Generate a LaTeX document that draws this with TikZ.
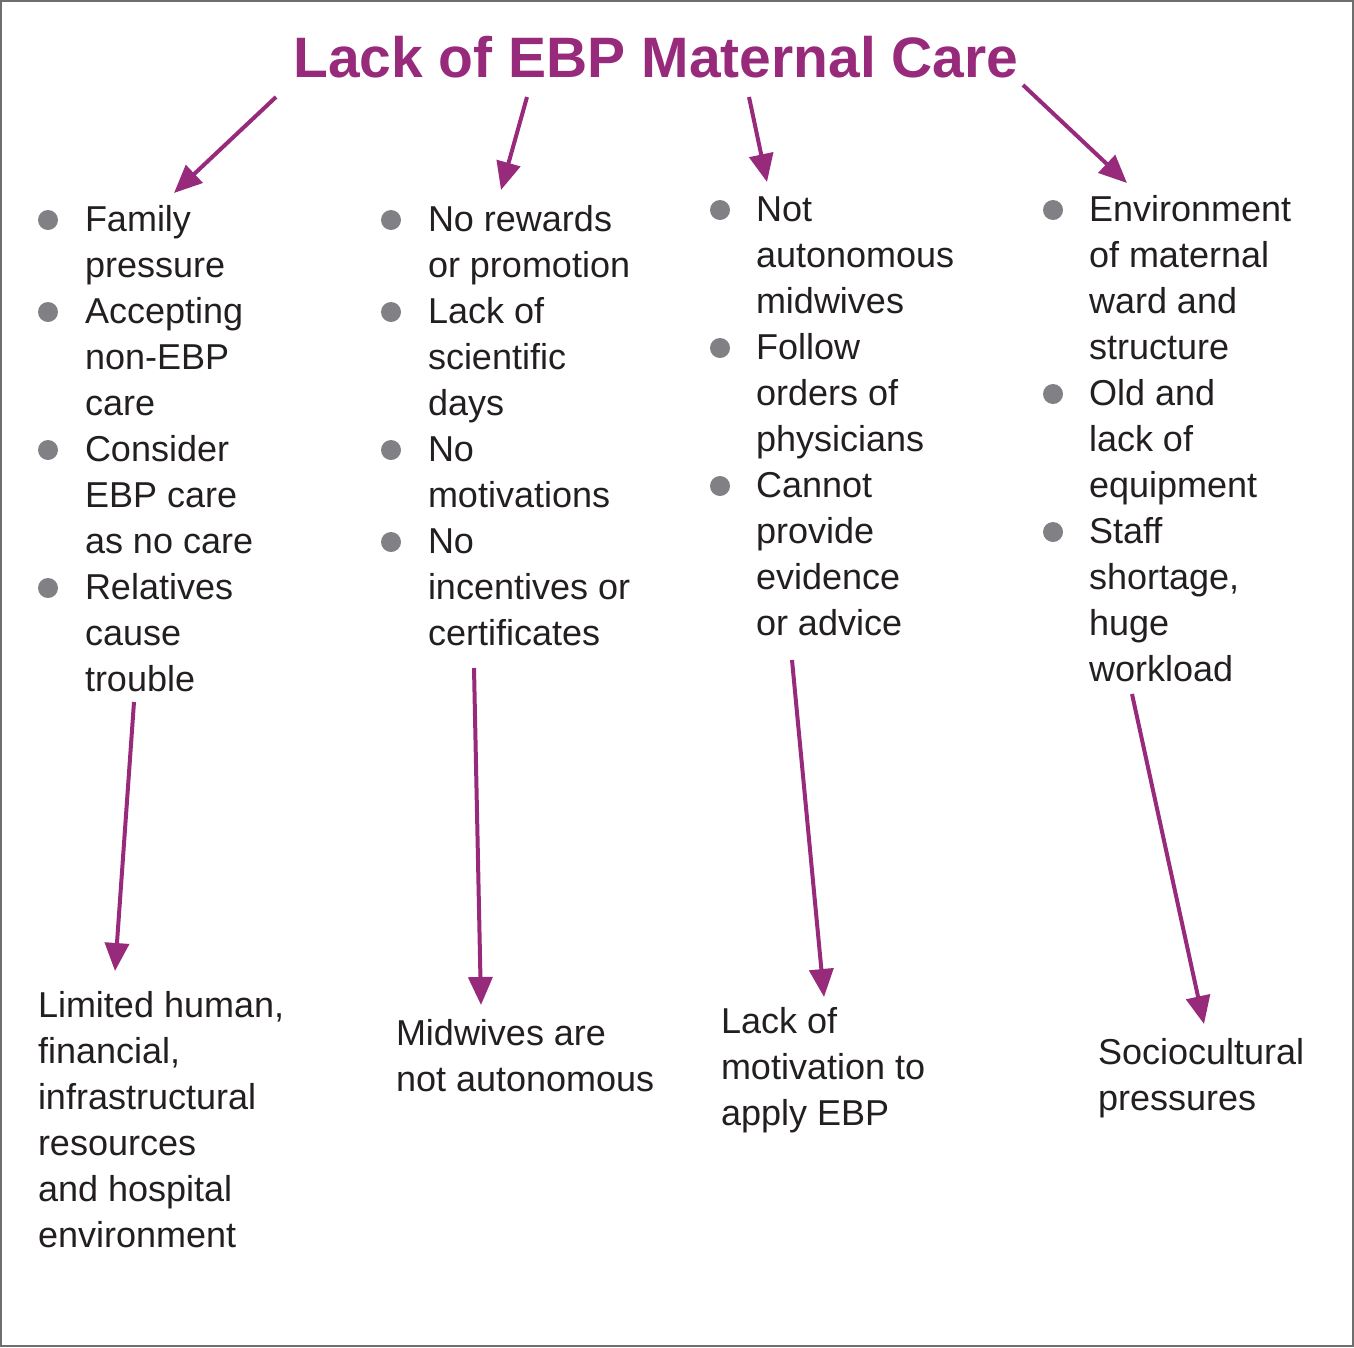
\documentclass[tikz,border=0pt]{standalone}
\usepackage{fontspec}
\setmainfont{Liberation Sans}
\usetikzlibrary{arrows.meta}
\definecolor{ebppurple}{RGB}{152,42,124}
\definecolor{ebpgray}{RGB}{128,128,133}
\definecolor{ebptext}{RGB}{35,31,32}
\definecolor{ebpframe}{RGB}{110,110,110}
\newcommand{\stk}[1]{\begin{tabular}[t]{@{}l@{}}#1\end{tabular}}
\begin{document}
\begin{tikzpicture}[x=1pt,y=-1pt,
  body/.style={anchor=base west, inner sep=0pt, outer sep=0pt, text=ebptext, font=\fontsize{36}{46}\selectfont},
  dot/.style={circle, fill=ebpgray, minimum size=20pt, inner sep=0pt},
  conn/.style={draw=ebppurple, line width=4pt, -{Triangle[length=28pt,width=24pt]}},
  titlestyle/.style={anchor=base west, inner sep=0pt, text=ebppurple, font=\fontsize{57}{60}\selectfont\bfseries}
  ]
\useasboundingbox (0,0) rectangle (1354,1347);
\draw[ebpframe, line width=2pt] (1,1) rectangle (1353,1346);

\node[titlestyle] (title) at (293,77) {Lack of EBP Maternal Care};

% column 1
\node[dot] (b11) at (48,220) {};
\node[body] (c11) at (85,231) {\stk{Family\\pressure}};
\node[dot] (b12) at (48,312) {};
\node[body] (c12) at (85,323) {\stk{Accepting\\non-EBP\\care}};
\node[dot] (b13) at (48,450) {};
\node[body] (c13) at (85,461) {\stk{Consider\\EBP care\\as no care}};
\node[dot] (b14) at (48,588) {};
\node[body] (c14) at (85,599) {\stk{Relatives\\cause\\trouble}};

% column 2
\node[dot] (b21) at (391,220) {};
\node[body] (c21) at (428,231) {\stk{No rewards\\or promotion}};
\node[dot] (b22) at (391,312) {};
\node[body] (c22) at (428,323) {\stk{Lack of\\scientific\\days}};
\node[dot] (b23) at (391,450) {};
\node[body] (c23) at (428,461) {\stk{No\\motivations}};
\node[dot] (b24) at (391,542) {};
\node[body] (c24) at (428,553) {\stk{No\\incentives or\\certificates}};

% column 3
\node[dot] (b31) at (720,210) {};
\node[body] (c31) at (756,221) {\stk{Not\\autonomous\\midwives}};
\node[dot] (b32) at (720,348) {};
\node[body] (c32) at (756,359) {\stk{Follow\\orders of\\physicians}};
\node[dot] (b33) at (720,486) {};
\node[body] (c33) at (756,497) {\stk{Cannot\\provide\\evidence\\or advice}};

% column 4
\node[dot] (b41) at (1053,210) {};
\node[body] (c41) at (1089,221) {\stk{Environment\\of maternal\\ward and\\structure}};
\node[dot] (b42) at (1053,394) {};
\node[body] (c42) at (1089,405) {\stk{Old and\\lack of\\equipment}};
\node[dot] (b43) at (1053,532) {};
\node[body] (c43) at (1089,543) {\stk{Staff\\shortage,\\huge\\workload}};

% bottom texts
\node[body] (r1) at (38,1017) {\stk{Limited human,\\financial,\\infrastructural\\resources\\and hospital\\environment}};
\node[body] (r2) at (396,1045) {\stk{Midwives are\\not autonomous}};
\node[body] (r3) at (721,1033) {\stk{Lack of\\motivation to\\apply EBP}};
\node[body] (r4) at (1098,1064) {\stk{Sociocultural\\pressures}};

% connector ends
\coordinate (t1s) at (276,97);   \coordinate (t1e) at (174,193);
\coordinate (t2s) at (527,97);   \coordinate (t2e) at (501,190);
\coordinate (t3s) at (749,97);   \coordinate (t3e) at (767,182);
\coordinate (t4s) at (1023,85);  \coordinate (t4e) at (1127,183);
\coordinate (u1s) at (134,702);  \coordinate (u1e) at (115,971);
\coordinate (u2s) at (474,668);  \coordinate (u2e) at (481,1005);
\coordinate (u3s) at (792,660);  \coordinate (u3e) at (824,997);
\coordinate (u4s) at (1132,694); \coordinate (u4e) at (1204,1024);

\draw[conn] (t1s) -- (t1e);
\draw[conn] (t2s) -- (t2e);
\draw[conn] (t3s) -- (t3e);
\draw[conn] (t4s) -- (t4e);
\draw[conn] (u1s) -- (u1e);
\draw[conn] (u2s) -- (u2e);
\draw[conn] (u3s) -- (u3e);
\draw[conn] (u4s) -- (u4e);
\end{tikzpicture}
\end{document}
